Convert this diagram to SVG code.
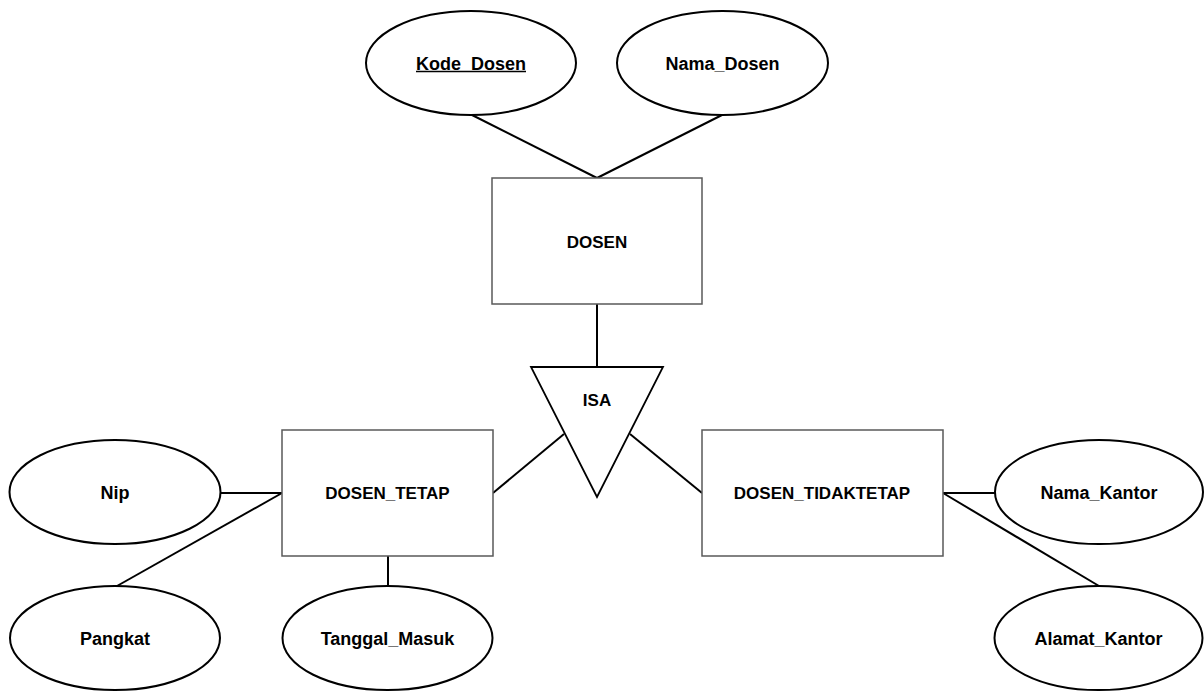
<svg xmlns="http://www.w3.org/2000/svg" width="1204" height="691" viewBox="0 0 1204 691">
<style>
.attr{fill:#fff;stroke:#000;stroke-width:2}
.ent{fill:#fff;stroke:#595959;stroke-width:1.5}
.isa{fill:#fff;stroke:#000;stroke-width:1.8}
.conn line{stroke:#000;stroke-width:2}
text{font-family:"Liberation Sans",Arial,sans-serif;font-weight:bold;text-anchor:middle;fill:#000}
.t17{font-size:17px}
.t18{font-size:18px}
</style>
<rect width="1204" height="691" fill="#fff"/>
<g id="connectors" class="conn">
<line x1="472" y1="115" x2="597" y2="178"/>
<line x1="722" y1="115" x2="597" y2="178"/>
<line x1="597" y1="304" x2="597" y2="367"/>
<line x1="493" y1="493" x2="564" y2="434"/>
<line x1="630" y1="434" x2="702" y2="493"/>
<line x1="221" y1="493" x2="282" y2="493"/>
<line x1="117" y1="586" x2="282" y2="493"/>
<line x1="388" y1="556" x2="388" y2="586"/>
<line x1="943" y1="493" x2="995" y2="493"/>
<line x1="943" y1="493" x2="1099" y2="586"/>
</g>
<g id="kode_dosen"><ellipse class="attr" cx="471" cy="63" rx="105" ry="52"/><text class="t18" x="471" y="69.5">Kode_Dosen</text><line x1="416" y1="71.5" x2="526" y2="71.5" stroke="#000" stroke-width="1.3"/></g>
<g id="nama_dosen"><ellipse class="attr" cx="722.5" cy="63" rx="105.5" ry="52"/><text class="t18" x="722.5" y="69.5">Nama_Dosen</text></g>
<g id="dosen"><rect class="ent" x="492" y="178" width="210" height="126"/><text class="t17" x="597" y="248">DOSEN</text></g>
<g id="isa"><polygon class="isa" points="531,367 663,367 597,497"/><text class="t17" x="597" y="406">ISA</text></g>
<g id="dosen_tetap"><rect class="ent" x="282" y="430" width="211" height="126"/><text class="t17" x="387.5" y="499">DOSEN_TETAP</text></g>
<g id="dosen_tidaktetap"><rect class="ent" x="702" y="430" width="241" height="126"/><text class="t17" x="822" y="499">DOSEN_TIDAKTETAP</text></g>
<g id="nip"><ellipse class="attr" cx="115" cy="492" rx="105.5" ry="52"/><text class="t18" x="115" y="499">Nip</text></g>
<g id="pangkat"><ellipse class="attr" cx="115" cy="638" rx="105" ry="52"/><text class="t18" x="115" y="644.5">Pangkat</text></g>
<g id="tanggal_masuk"><ellipse class="attr" cx="387.5" cy="638" rx="105" ry="52"/><text class="t18" x="387.5" y="644.5">Tanggal_Masuk</text></g>
<g id="nama_kantor"><ellipse class="attr" cx="1099" cy="492" rx="104" ry="52"/><text class="t18" x="1099" y="498.5">Nama_Kantor</text></g>
<g id="alamat_kantor"><ellipse class="attr" cx="1098.5" cy="638" rx="104" ry="52"/><text class="t18" x="1098.5" y="644.5">Alamat_Kantor</text></g>
</svg>
